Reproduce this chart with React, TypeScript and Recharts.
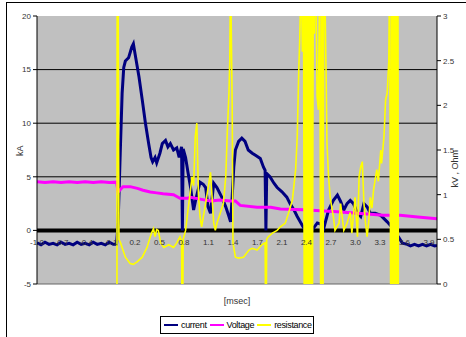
import React from 'react'
import { LineChart, Line, XAxis, YAxis, CartesianGrid, ReferenceLine, Label } from 'recharts'

// time axis (msec) and the tick labels printed on it
const tickTimes = [-1.0, -0.695, -0.39, -0.085, 0.22, 0.525, 0.83, 1.135, 1.44, 1.745, 2.05, 2.355, 2.66, 2.965, 3.27, 3.575, 3.88]
const tickLabels = ['-1.0', '-0.7', '-0.4', '-0.1', '0.2', '0.5', '0.8', '1.1', '1.4', '1.7', '2.1', '2.4', '2.7', '3.0', '3.3', '3.6', '3.9']

// current, kA
const currentT = [
  -1.0, -0.95, -0.9, -0.85, -0.8, -0.75, -0.7, -0.65, -0.6, -0.55, -0.5, -0.45, -0.4, -0.35, -0.3, -0.25, -0.2, -0.15, -0.1, -0.05, -0.01,
  0.01, 0.04, 0.06, 0.08, 0.1, 0.14, 0.16, 0.18, 0.2, 0.22, 0.27, 0.31, 0.35, 0.39, 0.42, 0.44, 0.47, 0.49, 0.53, 0.56, 0.6, 0.63, 0.66,
  0.7, 0.74, 0.77, 0.79, 0.8, 0.81, 0.82, 0.85, 0.88, 0.91, 0.95, 0.98, 1.03, 1.07, 1.1, 1.13, 1.16, 1.2, 1.24, 1.3, 1.35, 1.39, 1.41,
  1.43, 1.45, 1.47, 1.51, 1.55, 1.59, 1.63, 1.68, 1.72, 1.78, 1.82, 1.84, 1.85, 1.86, 1.9, 1.95, 1.99, 2.05, 2.11, 2.15, 2.2, 2.24,
  2.3, 2.33, 2.38, 2.43, 2.49, 2.53, 2.57, 2.63, 2.69, 2.74, 2.78, 2.82, 2.86, 2.9, 2.94, 2.99, 3.03, 3.07, 3.11, 3.15, 3.21, 3.28,
  3.32, 3.36, 3.42, 3.46, 3.5, 3.55, 3.61, 3.65, 3.7, 3.75, 3.8, 3.85, 3.9, 3.95, 3.98,
]
const currentKA = [
  -1.15, -1.35, -1.1, -1.3, -1.2, -1.35, -1.1, -1.3, -1.2, -1.35, -1.1, -1.3, -1.2, -1.35, -1.1, -1.3, -1.2, -1.35, -1.1, -1.3, -1.3,
  0.7, 8.1, 12.8, 15.2, 15.8, 16.1, 16.6, 17.1, 17.4, 16.5, 14.3, 12.2, 10.0, 8.1, 6.8, 6.4, 6.8, 6.3, 7.2, 8.1, 8.4, 7.8, 8.1,
  7.5, 7.7, 6.8, 7.5, 7.8, 0, 7.6, 6.8, 5.4, 4.1, 1.9, 3.0, 4.5, 4.3, 4.0, 2.2, 1.6, 4.4, 4.0, 3.1, 2.2, 1.3, 0.8,
  3.1, 5.9, 7.5, 8.3, 8.6, 8.3, 7.5, 7.2, 7.0, 6.7, 5.9, 5.6, 0, 5.3, 5.0, 4.4, 4.0, 3.6, 3.1, 2.5, 1.9, 1.3,
  0.5, 0.1, 0.0, 0.1, 0.7, 0.6, 0.2, 1.9, 2.8, 3.3, 2.7, 1.9, 2.5, 2.8, 2.5, 1.6, 1.3, 2.5, 2.2, 1.6, 1.6, 1.4,
  1.1, 0.8, 0.3, -0.2, -0.6, -1.2, -1.3, -1.45, -1.3, -1.45, -1.3, -1.45, -1.3, -1.45, -1.4,
]

// voltage, kV
const voltageT = [
  -1.0, -0.9, -0.8, -0.7, -0.6, -0.5, -0.4, -0.3, -0.2, -0.1, -0.01, 0.01, 0.07, 0.16, 0.25, 0.32, 0.41, 0.49, 0.57, 0.7, 0.78,
  0.88, 0.91, 1.03, 1.16, 1.28, 1.41, 1.47, 1.53, 1.74, 1.91, 2.03, 2.32, 2.53, 2.74, 3.03, 3.31, 3.52, 3.74, 3.98,
]
const voltageKV = [
  1.145, 1.135, 1.145, 1.135, 1.145, 1.135, 1.145, 1.135, 1.145, 1.135, 1.14, 1.03, 1.09, 1.09, 1.07, 1.05, 1.03, 1.02, 1.01, 1.0, 0.96,
  0.96, 0.97, 0.95, 0.93, 0.94, 0.93, 0.93, 0.88, 0.86, 0.86, 0.84, 0.83, 0.82, 0.81, 0.79, 0.77, 0.77, 0.75, 0.73,
]

// resistance, Ohm (values outside 0..3 run off the plot)
const resistT = [
  -1.0, -0.005, 0.0, 0.02, 0.04, 0.1, 0.16, 0.2, 0.25, 0.31, 0.37, 0.41, 0.43, 0.45, 0.47, 0.49, 0.51, 0.54, 0.58, 0.64, 0.7, 0.74,
  0.78, 0.8, 0.81, 0.82, 0.85, 0.88, 0.9, 0.93, 0.95, 0.97, 0.99, 1.0, 1.01, 1.03, 1.05, 1.07, 1.1, 1.12, 1.14, 1.16, 1.18, 1.2,
  1.22, 1.24, 1.28, 1.32, 1.35, 1.37, 1.39, 1.4, 1.41, 1.43, 1.44, 1.47, 1.51, 1.57, 1.64, 1.68, 1.74, 1.8, 1.84, 1.85, 1.86,
  1.88, 1.93, 1.99, 2.03, 2.09, 2.13, 2.18, 2.22, 2.24, 2.26, 2.27, 2.29,
  2.304, 2.316, 2.329, 2.341, 2.354, 2.366, 2.379, 2.391, 2.403, 2.416, 2.428, 2.441, 2.453, 2.466,
  2.487, 2.503, 2.52, 2.534, 2.547, 2.559, 2.572, 2.6, 2.61, 2.63, 2.65, 2.69, 2.71, 2.76, 2.78, 2.8, 2.82, 2.86, 2.9, 2.92,
  2.96, 2.99, 3.01, 3.03, 3.05, 3.07, 3.09, 3.11, 3.13, 3.15, 3.17, 3.19, 3.23, 3.25, 3.28, 3.29, 3.32, 3.34, 3.36, 3.38, 3.39,
  3.406, 3.418, 3.431, 3.443, 3.456, 3.468, 3.481, 3.493, 3.5, 3.98,
]
const resistOhm = [
  -0.95, -0.95, 6, 0.5, 0.46, 0.3, 0.23, 0.22, 0.25, 0.3, 0.41, 0.53, 0.58, 0.62, 0.53, 0.61, 0.6, 0.46, 0.41, 0.44, 0.41, 0.46,
  0.53, 0.48, -1, 0.5, 0.6, 0.83, 0.97, 1.2, 1.1, 1.65, 1.8, 1.39, 1.0, 0.75, 0.64, 0.75, 0.9, 1.02, 1.13, 1.25, 0.97, 0.68,
  0.6, 0.68, 0.79, 0.9, 1.2, 1.72, 2.14, 2.5, 3.5, 2.0, 0.46, 0.3, 0.29, 0.3, 0.38, 0.4, 0.38, 0.44, 0.46, -1, 0.5,
  0.53, 0.57, 0.6, 0.64, 0.68, 0.79, 0.94, 1.28, 1.65, 2.43, 2.7, 3.5,
  2.6, 4, -1, 4, -1, 4, -1, 4, -1, 4, -1, 4, 2.8, 4,
  2.1, 1.95, 3.5, -1, 4, -1, 4, 2.3, 1.58, 1.2, 0.97, 0.75, 0.6, 0.68, 0.9, 0.75, 0.6, 0.68, 0.8, 0.57,
  0.97, 0.53, 1.2, 1.31, 1.37, 0.91, 0.68, 0.53, 0.7, 0.97, 0.85, 1.05, 1.28, 1.15, 1.5, 1.35, 1.65, 2.06, 2.14, 2.5, 3.5,
  -1, 4, -1, 4, -1, 4, -1, 4, -0.95, -0.95,
]

const current = currentT.map((t, i) => ({ t, v: currentKA[i] }))
const voltage = voltageT.map((t, i) => ({ t, v: voltageKV[i] }))
const resistance = resistT.map((t, i) => ({ t, v: resistOhm[i] }))

const W = 466
const H = 337
const leftAxisW = 37
const rightAxisW = 29
const xAxisH = 20
const margin = { top: 16, right: 0, bottom: 33, left: 0 }
const kaMin = -5
const kaMax = 20
const plotH = H - margin.top - margin.bottom - xAxisH
// category labels sit just under the zero line
const zeroY = margin.top + (plotH * kaMax) / (kaMax - kaMin)

const font = '"Liberation Sans", Arial, sans-serif'
const textColor = '#333'

function TimeTick(props: any) {
  const { x, payload } = props
  const label = tickLabels[tickTimes.indexOf(payload.value)]
  return (
    <text x={x} y={zeroY + 15} textAnchor="middle" fontSize={8} fill={textColor} fontFamily={font}>
      {label}
    </text>
  )
}

const legendItems = [
  { name: 'current', color: '#000080' },
  { name: 'Voltage', color: '#ff00ff' },
  { name: 'resistance', color: '#ffff00' },
]

export default function App() {
  return (
    <div style={{ position: 'absolute', left: 0, top: 0, width: W, height: H, background: '#fff', overflow: 'hidden', fontFamily: font }}>
      <div style={{ position: 'absolute', left: 6, top: 2, width: W, height: H, borderLeft: '1px solid #000', borderTop: '1px solid #000' }} />
      <div style={{ position: 'absolute', left: 0, top: 0 }}>
        <LineChart width={W} height={H} margin={margin}>
          <CartesianGrid yAxisId="kA" vertical={false} horizontalValues={[5, 10, 15]} stroke="#000" fill="#c0c0c0" />
          <XAxis
            dataKey="t"
            type="number"
            domain={[-1, 3.98]}
            ticks={tickTimes}
            interval={0}
            height={xAxisH}
            axisLine={false}
            tickLine={false}
            tick={<TimeTick />}
            allowDataOverflow
          >
            <Label value="[msec]" position="insideBottom" offset={0} fontSize={9} fill={textColor} fontFamily={font} />
          </XAxis>
          <YAxis
            yAxisId="kA"
            orientation="left"
            width={leftAxisW}
            domain={[kaMin, kaMax]}
            ticks={[-5, 0, 5, 10, 15, 20]}
            interval={0}
            allowDataOverflow
            tickSize={4}
            tickMargin={2}
            axisLine={{ stroke: '#000' }}
            tickLine={{ stroke: '#000' }}
            tick={{ fontSize: 8, fill: textColor, fontFamily: font }}
          >
            <Label value="kA" angle={-90} position="insideLeft" offset={0} dx={20} dy={6} fontSize={9} fill={textColor} fontFamily={font} />
          </YAxis>
          <YAxis
            yAxisId="kVOhm"
            orientation="right"
            width={rightAxisW}
            domain={[0, 3]}
            ticks={[0, 0.5, 1, 1.5, 2, 2.5, 3]}
            interval={0}
            allowDataOverflow
            tickSize={4}
            tickMargin={2}
            axisLine={{ stroke: '#000' }}
            tickLine={{ stroke: '#000' }}
            tick={{ fontSize: 8, fill: textColor, fontFamily: font }}
          >
            <Label value="kV , Ohm" angle={-90} position="insideRight" offset={0} dx={-11} fontSize={9} fill={textColor} fontFamily={font} />
          </YAxis>
          <ReferenceLine yAxisId="kA" y={kaMin} stroke="#666" strokeWidth={1} />
          <ReferenceLine yAxisId="kA" y={0} stroke="#000" strokeWidth={4} />
          <Line data={current} dataKey="v" name="current" yAxisId="kA" type="linear" stroke="#000080" strokeWidth={3} dot={false} isAnimationActive={false} />
          <Line data={voltage} dataKey="v" name="Voltage" yAxisId="kVOhm" type="linear" stroke="#ff00ff" strokeWidth={3} dot={false} isAnimationActive={false} />
          <Line data={resistance} dataKey="v" name="resistance" yAxisId="kVOhm" type="linear" stroke="#ffff00" strokeWidth={1.6} dot={false} isAnimationActive={false} />
        </LineChart>
      </div>
      <div
        style={{
          position: 'absolute',
          left: 160,
          top: 316,
          width: 152,
          height: 16,
          border: '1px solid #000',
          display: 'flex',
          alignItems: 'center',
          fontSize: 9,
          letterSpacing: -0.35,
          color: '#000',
        }}
      >
        {legendItems.map((item) => (
          <div key={item.name} style={{ display: 'flex', alignItems: 'center', marginLeft: 3 }}>
            <span style={{ display: 'inline-block', width: 14, height: 2, background: item.color, marginRight: 3 }} />
            <span>{item.name}</span>
          </div>
        ))}
      </div>
    </div>
  )
}
